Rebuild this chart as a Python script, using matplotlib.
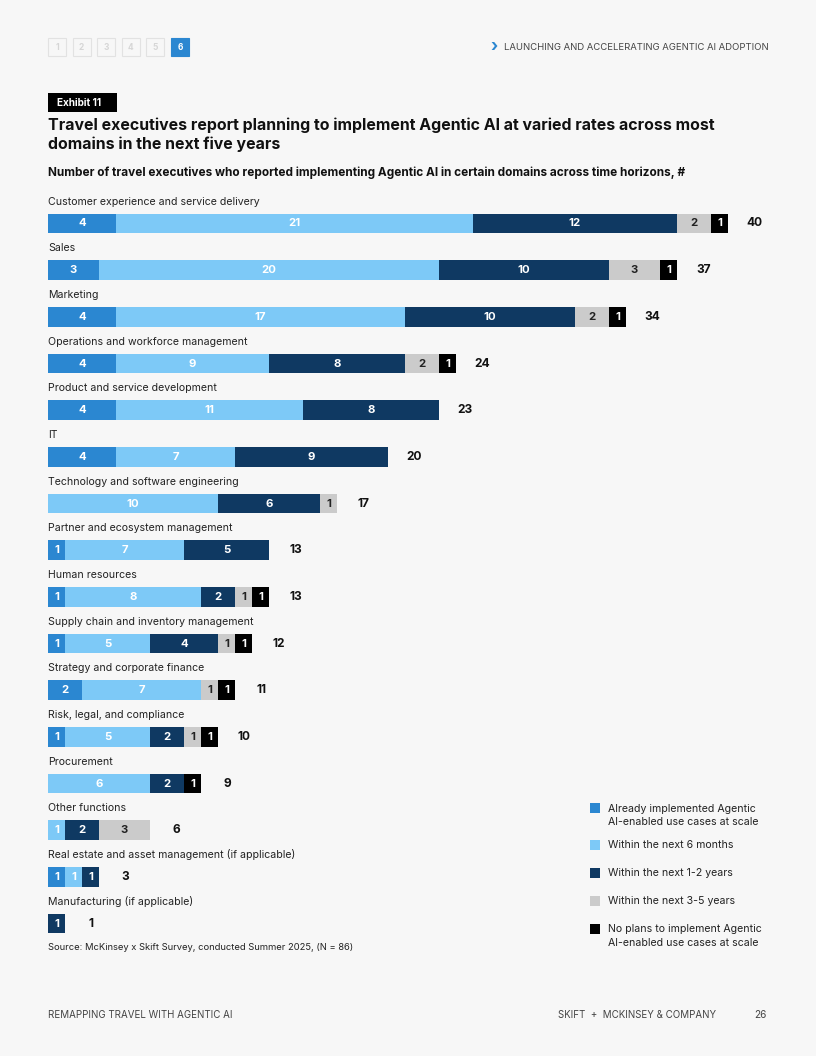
import matplotlib.pyplot as plt
from matplotlib.patches import Rectangle

plt.rcParams['font.family'] = ['Inter', 'DejaVu Sans']

# Datos del grafico
dominios = [
    "Customer experience and service delivery",
    "Sales",
    "Marketing",
    "Operations and workforce management",
    "Product and service development",
    "IT",
    "Technology and software engineering",
    "Partner and ecosystem management",
    "Human resources",
    "Supply chain and inventory management",
    "Strategy and corporate finance",
    "Risk, legal, and compliance",
    "Procurement",
    "Other functions",
    "Real estate and asset management (if applicable)",
    "Manufacturing (if applicable)",
]
ya_implementado = [4, 3, 4, 4, 4, 4, 0, 1, 1, 1, 2, 1, 0, 0, 1, 0]
seis_meses = [21, 20, 17, 9, 11, 7, 10, 7, 8, 5, 7, 5, 6, 1, 1, 0]
uno_dos_anos = [12, 10, 10, 8, 8, 9, 6, 5, 2, 4, 0, 2, 2, 2, 1, 1]
tres_cinco_anos = [2, 3, 2, 2, 0, 0, 1, 0, 1, 1, 1, 1, 0, 3, 0, 0]
sin_planes = [1, 1, 1, 1, 0, 0, 0, 0, 1, 1, 1, 1, 1, 0, 0, 0]
totales = [40, 37, 34, 24, 23, 20, 17, 13, 13, 12, 11, 10, 9, 6, 3, 1]

series = [ya_implementado, seis_meses, uno_dos_anos, tres_cinco_anos, sin_planes]
colores = ["#2B87D1", "#7DC9F7", "#0F3962", "#CBCBCB", "#000000"]
color_texto = ["white", "white", "white", "#222222", "white"]
leyenda = [
    "Already implemented Agentic\nAI-enabled use cases at scale",
    "Within the next 6 months",
    "Within the next 1-2 years",
    "Within the next 3-5 years",
    "No plans to implement Agentic\nAI-enabled use cases at scale",
]

W, H = 816, 1056
fondo = "#F7F7F7"
fig = plt.figure(figsize=(W / 100, H / 100), dpi=100, facecolor=fondo)


def fx(x):
    return x / W


def fy(y):
    return 1 - y / H


# Ejes para las barras (1 unidad = 17 px, fila = 46.67 px)
ax_left, ax_right, ax_top, ax_bot = 48, 800, 190, 940
ax = fig.add_axes([fx(ax_left), fy(ax_bot), (ax_right - ax_left) / W, (ax_bot - ax_top) / H])
ax.set_facecolor(fondo)
ax.set_xlim(0, (ax_right - ax_left) / 17)
paso = 46.67
y0 = (ax_top - 223.5) / paso
y1 = (ax_bot - 223.5) / paso
ax.set_ylim(y1, y0)
ax.axis('off')

for i, nombre in enumerate(dominios):
    ax.text(0, i - 0.47, nombre, fontsize=7.6, color="#222222", va='center', ha='left')
    izquierda = 0
    for k, serie in enumerate(series):
        v = serie[i]
        if v == 0:
            continue
        ax.barh(i, v, left=izquierda, height=0.42, color=colores[k], linewidth=0)
        ax.text(izquierda + v / 2, i, str(v), fontsize=8.2, fontweight='bold',
                color=color_texto[k], ha='center', va='center')
        izquierda += v
    ax.text(totales[i] + 1.55, i, str(totales[i]), fontsize=8.6, fontweight='bold',
            color="#111111", ha='center', va='center')

# Encabezado: paginacion
for n in range(6):
    x = 48 + n * 24.6
    activo = n == 5
    fig.patches.append(Rectangle((fx(x), fy(56)), 18 / W, 18 / H, transform=fig.transFigure,
                                 facecolor="#2B87D1" if activo else "none",
                                 edgecolor="#2B87D1" if activo else "#E2E2E2", linewidth=0.8))
    fig.text(fx(x + 9), fy(47), str(n + 1), fontsize=6, fontweight='bold',
             color="white" if activo else "#D6D6D6", ha='center', va='center')

fig.text(fx(490), fy(46), "\u203a", fontsize=12, fontweight='bold', color="#2B87D1", ha='left', va='center')
fig.text(fx(504), fy(47), "LAUNCHING AND ACCELERATING AGENTIC AI ADOPTION", fontsize=6.85,
         color="#444444", ha='left', va='center')

# Exhibit
fig.patches.append(Rectangle((fx(48), fy(112)), 69 / W, 19 / H, transform=fig.transFigure,
                             facecolor="black", edgecolor="none"))
fig.text(fx(57), fy(102.5), "Exhibit 11", fontsize=7.2, fontweight='bold', color="white",
         ha='left', va='center')

fig.text(fx(48), fy(125), "Travel executives report planning to implement Agentic AI at varied rates across most",
         fontsize=11.45, fontweight='bold', color="#111111", ha='left', va='center')
fig.text(fx(48), fy(144), "domains in the next five years",
         fontsize=11.45, fontweight='bold', color="#111111", ha='left', va='center')
fig.text(fx(48), fy(173),
         "Number of travel executives who reported implementing Agentic AI in certain domains across time horizons, #",
         fontsize=8.5, fontweight='bold', color="#111111", ha='left', va='center')

# Leyenda
leyenda_y = [808, 845, 873, 901, 929]
for k, (texto, yy) in enumerate(zip(leyenda, leyenda_y)):
    fig.patches.append(Rectangle((fx(590), fy(yy + 5)), 10 / W, 10 / H, transform=fig.transFigure,
                                 facecolor=colores[k], edgecolor="none"))
    fig.text(fx(608), fy(yy - 4.5), texto, fontsize=7.6, color="#222222", ha='left', va='top',
             linespacing=1.45)

fig.text(fx(48), fy(948), "Source: McKinsey x Skift Survey, conducted Summer 2025, (N = 86)",
         fontsize=6.75, color="#222222", ha='left', va='center')

# Pie de pagina
fig.text(fx(48), fy(1015), "REMAPPING TRAVEL WITH AGENTIC AI", fontsize=7.0, color="#444444",
         ha='left', va='center')
fig.text(fx(716), fy(1015), "SKIFT  +  MCKINSEY & COMPANY", fontsize=7.0, color="#444444",
         ha='right', va='center')
fig.text(fx(767), fy(1015), "26", fontsize=7.2, color="#444444", ha='right', va='center')

fig.savefig("out.png", dpi=100, facecolor=fondo)
